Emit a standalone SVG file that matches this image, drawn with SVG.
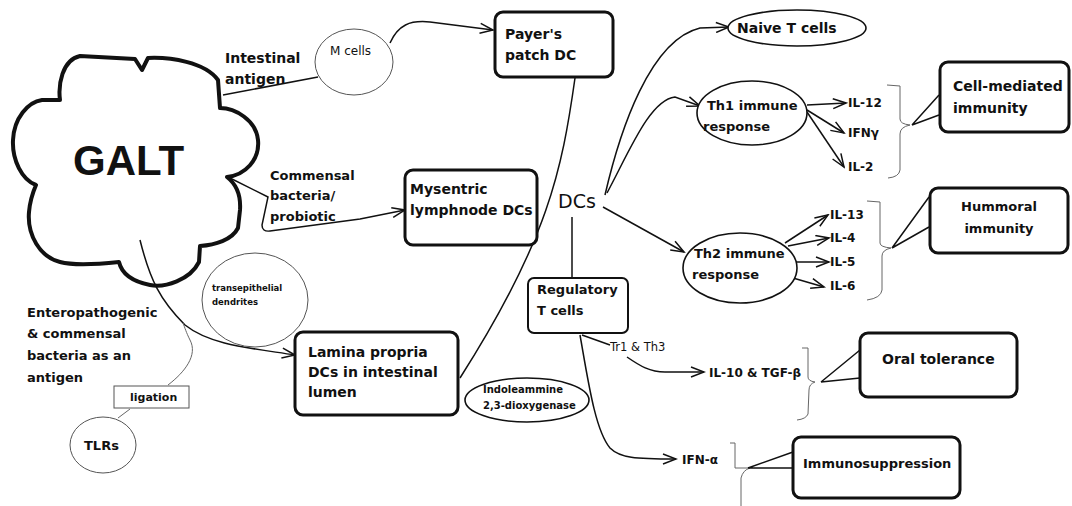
<svg xmlns="http://www.w3.org/2000/svg" width="1072" height="506" viewBox="0 0 1072 506">
<style>
text{font-family:"DejaVu Sans","Liberation Sans",sans-serif;fill:#111}
.b{font-weight:bold;font-size:14px}
.m{font-weight:bold;font-size:13px}
.il{font-weight:bold;font-size:12px}
.box{fill:#fff;stroke:#111;stroke-width:3}
.thin{fill:#fff;stroke:#555;stroke-width:1}
.ell{fill:#fff;stroke:#111;stroke-width:1.6}
.c{fill:none;stroke:#111;stroke-width:1.5}
.ct{fill:none;stroke:#666;stroke-width:1}
.a{marker-end:url(#ar)}
</style>
<defs>
<marker id="ar" markerUnits="userSpaceOnUse" markerWidth="16" markerHeight="12" refX="14" refY="6" orient="auto">
<path d="M1,1 L14,6 L1,11" fill="none" stroke="#111" stroke-width="1.5"/>
</marker>
</defs>
<rect width="1072" height="506" fill="#fff"/>

<g id="galt">
<path d="M60,100 C58,85 62,60 80,56 L135,59 L142,70 L148,58 C170,57 205,62 218,80 L220,108 C235,108 256,120 258,140 C260,160 245,175 227,177 C236,184 241,195 240,210 L238,228 C232,240 215,245 200,246 L199,262 C190,280 165,288 150,285 C135,282 122,275 119,262 C100,264 75,266 60,262 C40,257 27,235 29,212 C30,200 33,192 36,185 C22,180 12,160 13,140 C14,118 28,102 42,100 Z" fill="#fff" stroke="#111" stroke-width="4" stroke-linejoin="round"/>
<text x="73" y="175" style="font-family:'Liberation Sans',sans-serif;font-weight:bold;font-size:42px">GALT</text>
</g>

<g id="connectors">
<path class="c" d="M223,95 L318,77"/>
<path class="c a" d="M390,43 C398,25 410,20 430,22 L493,30"/>
<path class="c a" d="M228,177 L268,197 L262,225 Q262,232 270,231 L360,219 L405,210"/>
<path class="c a" d="M140,240 C150,280 160,300 185,325 C210,345 250,348 295,355"/>
<path class="ct" d="M168,385 C185,372 198,355 190,340 C186,332 185,328 183,323"/>
<path class="ct" d="M130,409 L118,418"/>
<path class="c" d="M575,78 C562,170 548,240 460,378"/>
<path class="c a" d="M605,195 C620,130 650,40 700,28 L729,27"/>
<path class="c a" d="M607,193 C630,150 650,100 675,97 L700,106"/>
<path class="c a" d="M603,207 L684,252"/>
<path class="c" d="M572,217 L572,278"/>
<path class="c" d="M582,335 L610,345"/>
<path class="c a" d="M627,357 C640,366 650,372 665,372 L704,372"/>
<path class="c a" d="M580,335 C588,380 595,430 610,448 C620,458 635,459 676,459"/>
<path class="c a" d="M807,105 L846,103"/>
<path class="c a" d="M807,110 L844,133"/>
<path class="c a" d="M807,112 L844,167"/>
<path class="c a" d="M785,243 L828,215"/>
<path class="c a" d="M788,246 L829,238"/>
<path class="c a" d="M793,262 L829,262"/>
<path class="c a" d="M793,278 L824,287"/>
<path class="ct" d="M887,85 L900,86 L900,119 Q900,124 910,125 Q900,127 900,134 L900,170 Q899,177 888,178"/>
<path class="c" d="M912,125 L939,95 M912,125 L939,115"/>
<path class="ct" d="M867,201 L880,202 L880,243 Q880,247 891,248 Q882,250 882,256 L882,290 Q881,298 867,300"/>
<path class="c" d="M892,248 L929,197 M892,248 L929,227"/>
<path class="ct" d="M802,348 L808,348 L808,377 Q808,381 815,382 Q809,384 809,390 L808,414 Q806,419 797,420"/>
<path class="c" d="M821,382 L860,350 M821,382 L860,378"/>
<path class="ct" d="M730,443 L735,443 L735,468 L750,468 M750,468 Q743,470 741,478 L741,506"/>
<path class="c" d="M748,468 L793,452 M748,468 L793,468"/>
</g>

<g id="labels">
<text class="b" x="225" y="63">Intestinal</text>
<text class="b" x="225" y="84">antigen</text>
<text class="m" x="270" y="180">Commensal</text>
<text class="m" x="270" y="200">bacteria/</text>
<text class="m" x="270" y="221">probiotic</text>
<text class="m" x="27" y="317">Enteropathogenic</text>
<text class="m" x="27" y="338">&amp; commensal</text>
<text class="m" x="27" y="360">bacteria as an</text>
<text class="m" x="27" y="382">antigen</text>
<text x="558" y="208" style="font-size:19px">DCs</text>
<text x="610" y="351" style="font-size:11.5px">Tr1 &amp; Th3</text>
<text class="il" x="848" y="107">IL-12</text>
<text class="il" x="848" y="137">IFNγ</text>
<text class="il" x="848" y="171">IL-2</text>
<text class="il" x="830" y="219">IL-13</text>
<text class="il" x="830" y="242">IL-4</text>
<text class="il" x="830" y="266">IL-5</text>
<text class="il" x="830" y="290">IL-6</text>
<text class="il" x="709" y="377">IL-10 &amp; TGF-β</text>
<text class="il" x="682" y="464">IFN-α</text>
</g>

<g id="mcells">
<ellipse class="thin" cx="354" cy="62" rx="39" ry="33"/>
<text x="330" y="55" style="font-size:12px">M cells</text>
</g>

<g id="payers">
<rect class="box" x="495" y="12" width="118" height="65" rx="8"/>
<text class="b" x="505" y="39">Payer's</text>
<text class="b" x="505" y="60">patch DC</text>
</g>

<g id="mysentric">
<rect class="box" x="405" y="170" width="132" height="75" rx="8"/>
<text class="b" x="410" y="194">Mysentric</text>
<text class="b" x="410" y="215">lymphnode DCs</text>
</g>

<g id="transepithelial">
<ellipse class="thin" cx="255" cy="300" rx="53" ry="47"/>
<text x="212" y="291" style="font-size:8.5px;font-weight:bold">transepithelial</text>
<text x="212" y="305" style="font-size:8.5px;font-weight:bold">dendrites</text>
</g>

<g id="lamina">
<rect class="box" x="295" y="332" width="163" height="83" rx="8"/>
<text class="b" x="308" y="357">Lamina propria</text>
<text class="b" x="308" y="377">DCs in intestinal</text>
<text class="b" x="308" y="397">lumen</text>
</g>

<g id="ligation">
<rect x="114" y="386" width="75" height="22" fill="#fff" stroke="#555" stroke-width="1"/>
<text x="130" y="401" style="font-size:11px;font-weight:bold">ligation</text>
</g>

<g id="tlrs">
<ellipse class="thin" cx="103" cy="445" rx="33" ry="28"/>
<text class="m" x="84" y="450">TLRs</text>
</g>

<g id="regulatory">
<rect x="528" y="278" width="100" height="55" rx="6" fill="#fff" stroke="#111" stroke-width="2"/>
<text class="m" x="537" y="294">Regulatory</text>
<text class="m" x="537" y="315">T cells</text>
</g>

<g id="ido">
<ellipse class="ell" cx="527" cy="400" rx="62" ry="22"/>
<text x="483" y="393" style="font-size:10px;font-weight:bold">Indoleammine</text>
<text x="483" y="409" style="font-size:10px;font-weight:bold">2,3-dioxygenase</text>
</g>

<g id="naive">
<ellipse class="ell" cx="797" cy="28" rx="69" ry="18"/>
<text class="b" x="737" y="33">Naive T cells</text>
</g>

<g id="th1">
<ellipse class="ell" cx="752" cy="113" rx="55" ry="32"/>
<text class="m" x="707" y="110">Th1 immune</text>
<text class="m" x="703" y="131">response</text>
</g>

<g id="th2">
<ellipse class="ell" cx="740" cy="268" rx="57" ry="35"/>
<text class="m" x="694" y="258">Th2 immune</text>
<text class="m" x="692" y="279">response</text>
</g>

<g id="cellmediated">
<rect class="box" x="940" y="62" width="129" height="70" rx="8"/>
<text class="b" x="953" y="91">Cell-mediated</text>
<text class="b" x="953" y="113">immunity</text>
</g>

<g id="hummoral">
<rect class="box" x="930" y="188" width="138" height="65" rx="8"/>
<text class="m" x="999" y="211" text-anchor="middle">Hummoral</text>
<text class="m" x="999" y="233" text-anchor="middle">immunity</text>
</g>

<g id="oral">
<rect class="box" x="860" y="333" width="157" height="64" rx="8"/>
<text class="b" x="882" y="364">Oral tolerance</text>
</g>

<g id="immuno">
<rect class="box" x="793" y="437" width="167" height="61" rx="8"/>
<text class="m" x="803" y="468">Immunosuppression</text>
</g>
</svg>
